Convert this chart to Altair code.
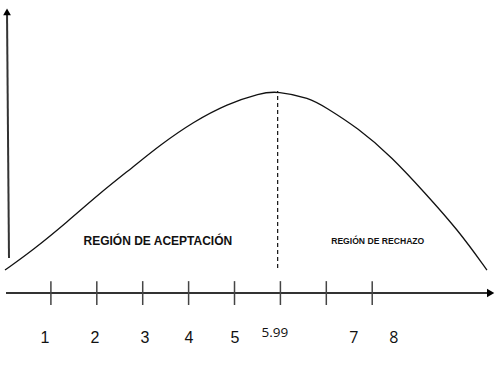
import altair as alt
import pandas as pd

# Curve (chi-square-like density sketch), x in axis units, y relative height
curve_x = [0.0, 0.61, 1.35, 2.07, 2.79, 3.38, 4.10, 4.84, 5.56, 5.93, 6.64, 6.97, 7.69, 8.43, 9.15, 9.87, 10.50]
curve_y = [0.114, 0.213, 0.351, 0.495, 0.624, 0.733, 0.847, 0.936, 0.990, 1.0, 0.965, 0.921, 0.817, 0.673, 0.495, 0.312, 0.114]

tick_pos = [1, 2, 3, 4, 5, 6, 7, 8]
label_text_a = ["1", "2", "3", "4", "5"]
label_x_a = [0.87, 1.96, 3.05, 4.01, 5.01]
label_text_b = ["7", "8"]
label_x_b = [7.60, 8.47]
crit_text = ["5.99"]
crit_label_x = [5.88]
crit_x = 5.94

region_text = ["REGIÓN DE ACEPTACIÓN", "REGIÓN DE RECHAZO"]
region_x = [3.33, 8.12]
region_y = [0.257, 0.257]

XD = [-0.109, 10.675]
YD = [-0.366, 1.4505]
xs = alt.Scale(domain=XD, nice=False, zero=False)
ys = alt.Scale(domain=YD, nice=False, zero=False)

def X(f="x"):
    return alt.X(f, type="quantitative", scale=xs, axis=None)

def Y(f="y"):
    return alt.Y(f, type="quantitative", scale=ys, axis=None)

curve_df = pd.DataFrame({"x": curve_x, "y": curve_y})
curve = alt.Chart(curve_df).mark_line(color="#111111", strokeWidth=1.3, interpolate="basis").encode(x=X(), y=Y())

dash_df = pd.DataFrame({"x": [crit_x], "y": [0.124], "y2": [1.0]})
dash = alt.Chart(dash_df).mark_rule(color="#111111", strokeWidth=1.2, strokeDash=[4, 3]).encode(
    x=X(), y=Y(), y2="y2:Q")

axis_df = pd.DataFrame({"x": [0.022], "x2": [10.52], "y": [0.0]})
haxis = alt.Chart(axis_df).mark_rule(color="#333333", strokeWidth=2).encode(x=X(), x2="x2:Q", y=Y())

vaxis_df = pd.DataFrame({"x": [0.087], "x2": [0.044], "y": [0.173], "y2": [1.381]})
vaxis = alt.Chart(vaxis_df).mark_rule(color="#333333", strokeWidth=2).encode(x=X(), x2="x2:Q", y=Y(), y2="y2:Q")

harrow = alt.Chart(pd.DataFrame({"x": [10.58], "y": [0.0]})).mark_point(
    shape="triangle-right", filled=True, color="#000000", opacity=1, size=70).encode(x=X(), y=Y())
varrow = alt.Chart(pd.DataFrame({"x": [0.044], "y": [1.392]})).mark_point(
    shape="triangle-up", filled=True, color="#000000", opacity=1, size=60).encode(x=X(), y=Y())

ticks_df = pd.DataFrame({"x": tick_pos, "y": [0.059] * len(tick_pos), "y2": [-0.059] * len(tick_pos)})
ticks = alt.Chart(ticks_df).mark_rule(color="#444444", strokeWidth=1.5).encode(x=X(), y=Y(), y2="y2:Q")

la = alt.Chart(pd.DataFrame({"x": label_x_a, "t": label_text_a, "y": [-0.223] * 5})).mark_text(
    font="Liberation Sans", fontSize=16, color="#111111", baseline="middle").encode(x=X(), y=Y(), text="t:N")
lb = alt.Chart(pd.DataFrame({"x": label_x_b, "t": label_text_b, "y": [-0.223] * 2})).mark_text(
    font="Open Sans", fontSize=16, color="#111111", baseline="middle").encode(x=X(), y=Y(), text="t:N")
lc = alt.Chart(pd.DataFrame({"x": crit_label_x, "t": crit_text, "y": [-0.198]})).mark_text(
    font="Open Sans", fontSize=13.5, color="#111111", baseline="middle").encode(x=X(), y=Y(), text="t:N")

r1 = alt.Chart(pd.DataFrame({"x": [region_x[0]], "t": [region_text[0]], "y": [region_y[0]]})).mark_text(
    font="Liberation Sans", fontSize=12, fontWeight="bold", color="#111111", baseline="middle").encode(
    x=X(), y=Y(), text="t:N")
r2 = alt.Chart(pd.DataFrame({"x": [region_x[1]], "t": [region_text[1]], "y": [region_y[1]]})).mark_text(
    font="Liberation Sans", fontSize=8.6, fontWeight="bold", color="#111111", baseline="middle").encode(
    x=X(), y=Y(), text="t:N")

chart = alt.layer(haxis, vaxis, ticks, dash, curve, harrow, varrow, la, lb, lc, r1, r2).properties(
    width=495, height=367, padding=0, autosize=alt.AutoSizeParams(type="none"),
    background="white"
).configure_view(stroke=None)

chart.save("out.html", embed_options={"renderer": "svg", "actions": False})
